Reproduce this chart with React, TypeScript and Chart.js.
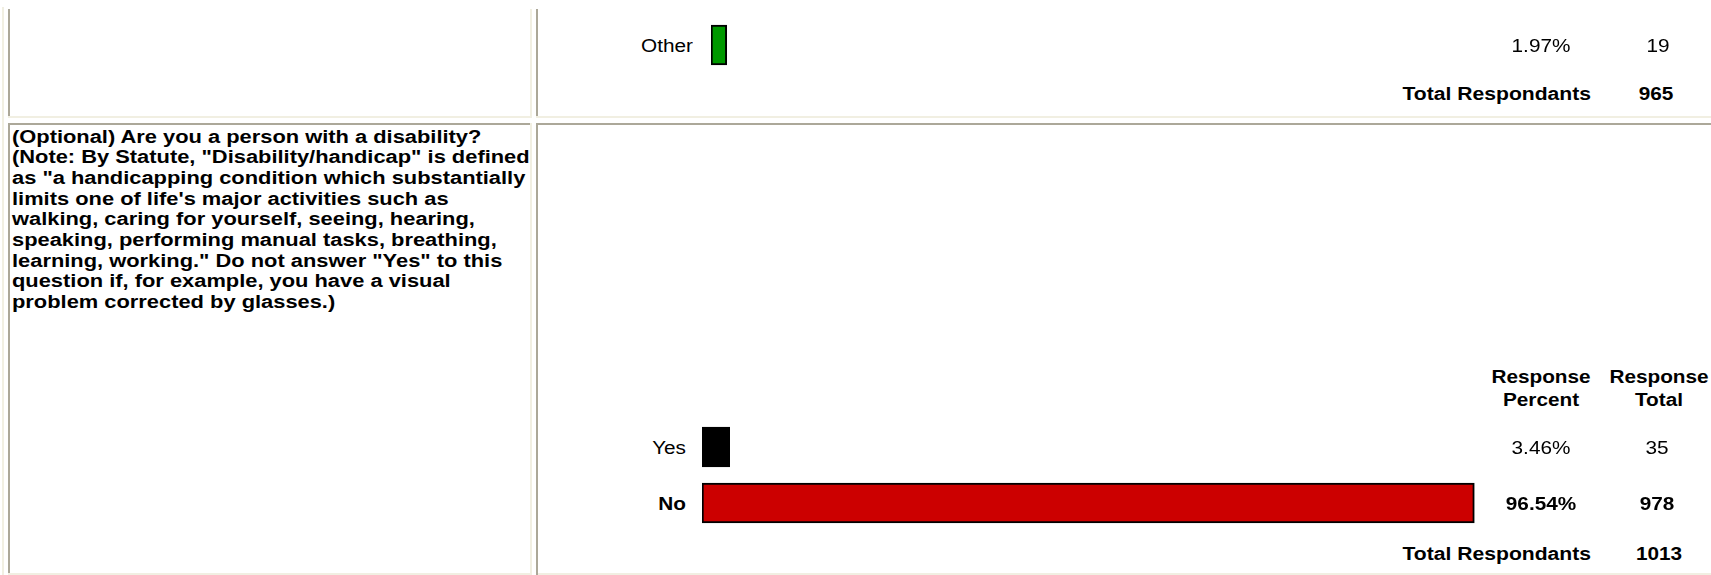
import React, { useEffect, useRef } from "react";
import { Chart, registerables } from "chart.js";

Chart.register(...registerables);

// ---------- data ----------
const otherCategories = ["Other"];
const otherPercent = [1.97];
const otherCount = [19];
const otherTotal = 965;

const disabilityCategories = ["Yes", "No"];
const disabilityPercent = [3.46, 96.54];
const disabilityCount = [35, 978];
const disabilityTotal = 1013;

const questionLines = [
  "(Optional) Are you a person with a disability?",
  "(Note: By Statute, \"Disability/handicap\" is defined",
  "as \"a handicapping condition which substantially",
  "limits one of life's major activities such as",
  "walking, caring for yourself, seeing, hearing,",
  "speaking, performing manual tasks, breathing,",
  "learning, working.\" Do not answer \"Yes\" to this",
  "question if, for example, you have a visual",
  "problem corrected by glasses.)",
];

const headerPercent = ["Response", "Percent"];
const headerTotal = ["Response", "Total"];
const totalLabel = "Total Respondants";

// ---------- styles ----------
const otherColors = ["#009900"];
const disabilityColors = ["#000000", "#cc0000"];
const LIGHT = "#f1efe2";
const DARK = "#aca899";
const FONT = "'Liberation Sans', Arial, Helvetica, sans-serif";
const FS = 18.7;
const LH = 23;
const SX = 1.11;
const QFS = 18.7;
const QSX = 1.17;
const QLH = 20.7;

function BarChart(props: {
  labels: string[];
  values: number[];
  colors: string[];
  left: number;
  top: number;
  width: number;
  height: number;
}) {
  const ref = useRef<HTMLCanvasElement>(null);
  useEffect(() => {
    const chart = new Chart(ref.current as HTMLCanvasElement, {
      type: "bar",
      data: {
        labels: props.labels,
        datasets: [
          {
            data: props.values,
            backgroundColor: props.colors,
            borderColor: "#000000",
            borderWidth: 2,
            borderSkipped: false,
            barThickness: 40,
          },
        ],
      },
      options: {
        indexAxis: "y",
        responsive: false,
        maintainAspectRatio: false,
        animation: false,
        layout: { padding: 0 },
        plugins: { legend: { display: false }, tooltip: { enabled: false } },
        scales: {
          x: { display: false, min: 0, max: 100 },
          y: { display: false },
        },
      },
    });
    return () => chart.destroy();
  }, []);
  return (
    <canvas
      ref={ref}
      width={props.width}
      height={props.height}
      style={{ position: "absolute", left: props.left, top: props.top, width: props.width, height: props.height }}
    />
  );
}

function T(props: {
  x: number;
  y: number;
  align: "left" | "center" | "right";
  bold?: boolean;
  fs?: number;
  sx?: number;
  children: React.ReactNode;
}) {
  const { x, y, align, bold } = props;
  const fs = props.fs ?? FS;
  const sx = props.sx ?? SX;
  const W = 700;
  let left = x;
  if (align === "center") left = x - W / 2;
  if (align === "right") left = x - W;
  return (
    <div
      style={{
        position: "absolute",
        left,
        top: y - LH / 2,
        width: W,
        height: LH,
        lineHeight: LH + "px",
        fontSize: fs,
        fontFamily: FONT,
        fontWeight: bold ? "bold" : "normal",
        color: "#000",
        textAlign: align,
        whiteSpace: "nowrap",
        transform: `scaleX(${sx})`,
        transformOrigin: align === "left" ? "left center" : align === "right" ? "right center" : "center center",
      }}
    >
      {props.children}
    </div>
  );
}

function L(props: { x: number; y: number; w: number; h: number; c: string }) {
  return (
    <div style={{ position: "absolute", left: props.x, top: props.y, width: props.w, height: props.h, background: props.c }} />
  );
}

const pct = (v: number) => v.toFixed(2) + "%";

export default function App() {
  const maxIdx = disabilityPercent.indexOf(Math.max(...disabilityPercent));
  const otherMax = otherPercent.indexOf(Math.max(...otherPercent));
  return (
    <div style={{ position: "absolute", left: 0, top: 0, width: 1711, height: 575, overflow: "hidden", background: "#fff" }}>
      {/* table frame */}
      <L x={2} y={7} w={2} h={568} c={LIGHT} />
      {/* row 1 */}
      <L x={8} y={9} w={2} h={109} c={DARK} />
      <L x={530} y={9} w={2} h={109} c={LIGHT} />
      <L x={8} y={116} w={524} h={2} c={LIGHT} />
      <L x={536} y={9} w={2} h={109} c={DARK} />
      <L x={536} y={116} w={1175} h={2} c={LIGHT} />
      {/* row 2 */}
      <L x={8} y={123} w={524} h={2} c={DARK} />
      <L x={8} y={123} w={2} h={452} c={DARK} />
      <L x={530} y={123} w={2} h={452} c={LIGHT} />
      <L x={8} y={573} w={524} h={2} c={LIGHT} />
      <L x={536} y={123} w={1175} h={2} c={DARK} />
      <L x={536} y={123} w={2} h={452} c={DARK} />
      <L x={538} y={573} w={1173} h={2} c={LIGHT} />

      {/* top section: Other */}
      {otherCategories.map((c, i) => (
        <T key={"ol" + i} x={693} y={45 + i * 56} align="right" bold={i === otherMax && otherCategories.length > 1}>
          {c}
        </T>
      ))}
      <BarChart labels={otherCategories} values={otherPercent} colors={otherColors} left={711} top={17} width={800} height={56} />
      {otherPercent.map((v, i) => (
        <T key={"op" + i} x={1541} y={45 + i * 56} align="center">
          {pct(v)}
        </T>
      ))}
      {otherCount.map((v, i) => (
        <T key={"oc" + i} x={1658} y={45 + i * 56} align="center">
          {String(v)}
        </T>
      ))}
      <T x={1591} y={93} align="right" bold sx={1.13}>
        {totalLabel}
      </T>
      <T x={1656} y={93} align="center" bold>
        {String(otherTotal)}
      </T>

      {/* question text */}
      {questionLines.map((s, i) => (
        <T key={"q" + i} x={12} y={136 + i * QLH} align="left" bold fs={QFS} sx={QSX}>
          {s}
        </T>
      ))}

      {/* bottom section headers */}
      {headerPercent.map((s, i) => (
        <T key={"hp" + i} x={1541} y={376 + i * LH} align="center" bold>
          {s}
        </T>
      ))}
      {headerTotal.map((s, i) => (
        <T key={"ht" + i} x={1658.5} y={376 + i * LH} align="center" bold>
          {s}
        </T>
      ))}

      {disabilityCategories.map((c, i) => (
        <T key={"dl" + i} x={686} y={447 + i * 56} align="right" bold={i === maxIdx}>
          {c}
        </T>
      ))}
      <BarChart
        labels={disabilityCategories}
        values={disabilityPercent}
        colors={disabilityColors}
        left={702}
        top={419}
        width={800}
        height={112}
      />
      {disabilityPercent.map((v, i) => (
        <T key={"dp" + i} x={1541} y={447 + i * 56} align="center" bold={i === maxIdx}>
          {pct(v)}
        </T>
      ))}
      {disabilityCount.map((v, i) => (
        <T key={"dc" + i} x={1657} y={447 + i * 56} align="center" bold={i === maxIdx}>
          {String(v)}
        </T>
      ))}
      <T x={1591} y={553} align="right" bold sx={1.13}>
        {totalLabel}
      </T>
      <T x={1659} y={553} align="center" bold>
        {String(disabilityTotal)}
      </T>
    </div>
  );
}
